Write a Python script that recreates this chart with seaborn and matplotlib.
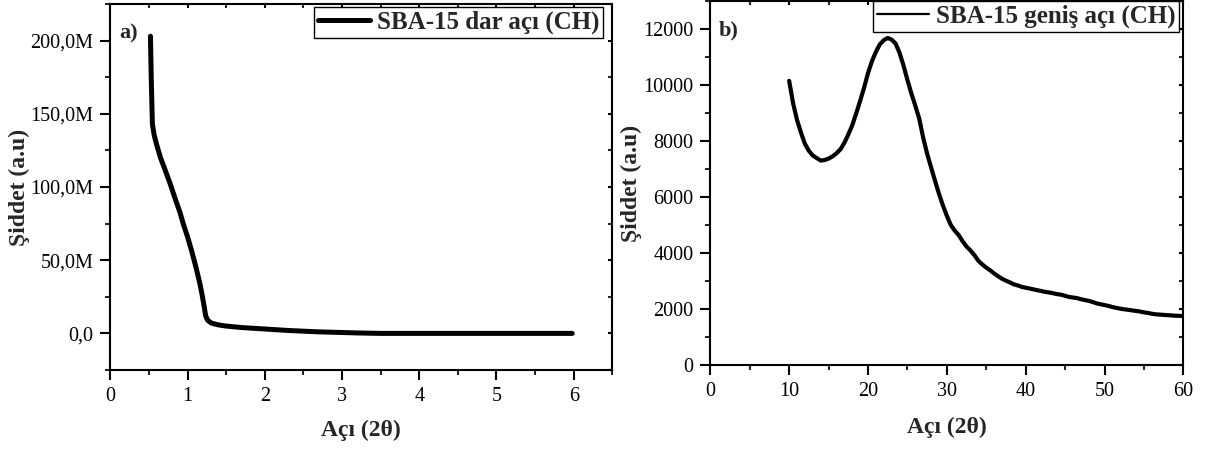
import matplotlib
matplotlib.use("Agg")
import matplotlib.pyplot as plt
from matplotlib.ticker import MultipleLocator, FuncFormatter
import seaborn as sns
import pandas as pd

# Small-angle pattern (2θ in degrees, intensity in counts)
small_angle = [0.52, 0.53, 0.545, 0.57, 0.60, 0.65, 0.70, 0.77, 0.84, 0.90, 0.95,
               1.00, 1.05, 1.11, 1.16, 1.19, 1.21, 1.235, 1.26, 1.31, 1.40, 1.50,
               1.70, 2.00, 2.30, 2.67, 3.00, 3.20, 3.50, 4.00, 5.00, 5.98]
small_int = [203e6, 175e6, 143e6, 135e6, 129e6, 120e6, 113e6, 103e6, 92e6, 83e6, 74e6,
             66e6, 57e6, 45e6, 34e6, 26e6, 20e6, 12e6, 9.0e6, 7.0e6, 5.8e6, 5.0e6,
             4.0e6, 3.0e6, 2.0e6, 1.1e6, 0.6e6, 0.3e6, 0.0, 0.0, 0.0, 0.0]

# Wide-angle pattern, sampled every 0.5° from 10° to 60°
wide_angle = [10 + 0.5 * i for i in range(101)]
wide_int = [10150, 9350, 8750, 8300, 7900, 7650, 7480, 7390, 7300, 7320,
            7370, 7450, 7560, 7700, 7930, 8230, 8560, 8980, 9430, 9900,
            10420, 10850, 11180, 11450, 11600, 11680, 11620, 11480, 11150, 10700,
            10180, 9700, 9260, 8800, 8120, 7550, 7060, 6580, 6120, 5700,
            5330, 5000, 4800, 4640, 4420, 4230, 4090, 3920, 3720, 3590,
            3480, 3380, 3270, 3170, 3080, 3010, 2950, 2880, 2840, 2790,
            2760, 2730, 2700, 2670, 2640, 2610, 2590, 2560, 2530, 2510,
            2470, 2430, 2410, 2390, 2350, 2320, 2290, 2250, 2200, 2170,
            2140, 2110, 2070, 2040, 2010, 1990, 1970, 1950, 1930, 1910,
            1880, 1860, 1830, 1810, 1800, 1790, 1780, 1770, 1760, 1755, 1750]

label_a = "SBA-15 dar açı (CH)"
label_b = "SBA-15 geniş açı (CH)"
xlabel = "Açı (2θ)"
ylabel = "Şiddet (a.u)"

sns.set_style("ticks")
plt.rcParams["font.family"] = ["Liberation Serif", "DejaVu Serif"]

fig = plt.figure(figsize=(12.08, 4.5), dpi=100)
ax1 = fig.add_axes([0.0913, 0.1778, 0.4156, 0.8133])
ax2 = fig.add_axes([0.5880, 0.1889, 0.3916, 0.8089])

df_a = pd.DataFrame({"x": small_angle, "y": small_int})
df_b = pd.DataFrame({"x": wide_angle, "y": wide_int})

sns.lineplot(data=df_a, x="x", y="y", ax=ax1, color="black", lw=3.6,
             label=label_a, sort=False, estimator=None)
sns.lineplot(data=df_b, x="x", y="y", ax=ax2, color="black", lw=3.0,
             label=label_b, sort=False, estimator=None)

tick_fs = 14.5
lab_fs = 17

def millions(v, pos):
    if abs(v) < 1:
        return "0,0"
    return f"{v/1e6:.1f}M".replace(".", ",")

ax1.set_xlim(0, 6.5)
ax1.set_ylim(-25e6, 225e6)
ax1.xaxis.set_major_locator(MultipleLocator(1))
ax1.xaxis.set_minor_locator(MultipleLocator(0.5))
ax1.yaxis.set_major_locator(MultipleLocator(50e6))
ax1.yaxis.set_minor_locator(MultipleLocator(25e6))
ax1.yaxis.set_major_formatter(FuncFormatter(millions))

ax2.set_xlim(0, 60)
ax2.set_ylim(0, 13000)
ax2.xaxis.set_major_locator(MultipleLocator(10))
ax2.xaxis.set_minor_locator(MultipleLocator(5))
ax2.yaxis.set_major_locator(MultipleLocator(2000))
ax2.yaxis.set_minor_locator(MultipleLocator(1000))

for ax in (ax1, ax2):
    for s in ax.spines.values():
        s.set_linewidth(1.5)
        s.set_color("black")
        s.set_visible(True)
    ax.tick_params(which="major", direction="out", length=7, width=1.5,
                   labelsize=tick_fs, colors="black", pad=5)
    ax.tick_params(which="minor", direction="out", length=3.5, width=1.5)
    ax.tick_params(which="both", top=True, right=True)
    # opposite-side ticks point inward
    for t in ax.xaxis.get_major_ticks() + ax.xaxis.get_minor_ticks():
        t.tick2line.set_marker(3)
        t.tick2line.set_markersize(3)
    for t in ax.yaxis.get_major_ticks() + ax.yaxis.get_minor_ticks():
        t.tick2line.set_marker(0)
        t.tick2line.set_markersize(3)

for ax, xy, yx in ((ax1, -0.135, -0.16), (ax2, -0.143, -0.144)):
    ax.set_xlabel(xlabel, fontsize=lab_fs, fontweight="bold")
    ax.set_ylabel(ylabel, fontsize=lab_fs, fontweight="bold")
    ax.xaxis.set_label_coords(0.5, xy)
    ax.yaxis.set_label_coords(yx, 0.5)

ax1.text(0.018, 0.92, "a)", transform=ax1.transAxes, fontsize=16,
         fontweight="bold", va="center", ha="left")
ax2.text(0.017, 0.92, "b)", transform=ax2.transAxes, fontsize=16,
         fontweight="bold", va="center", ha="left")

leg_kw = dict(loc="upper right", frameon=True, fancybox=False, shadow=False,
              borderaxespad=0, borderpad=0.15, handletextpad=0.25,
              prop={"family": "Liberation Serif", "weight": "bold", "size": 18})
leg1 = ax1.legend(bbox_to_anchor=(0.981, 0.992), handlelength=2.1, **leg_kw)
leg2 = ax2.legend(bbox_to_anchor=(0.991, 1.0), handlelength=2.1, **leg_kw)
for leg, lw in ((leg1, 3.6), (leg2, 1.6)):
    fr = leg.get_frame()
    fr.set_edgecolor("black")
    fr.set_linewidth(1.0)
    fr.set_alpha(1)
    leg.get_lines()[0].set_linewidth(lw)

fig.savefig("out.png", dpi=100)
